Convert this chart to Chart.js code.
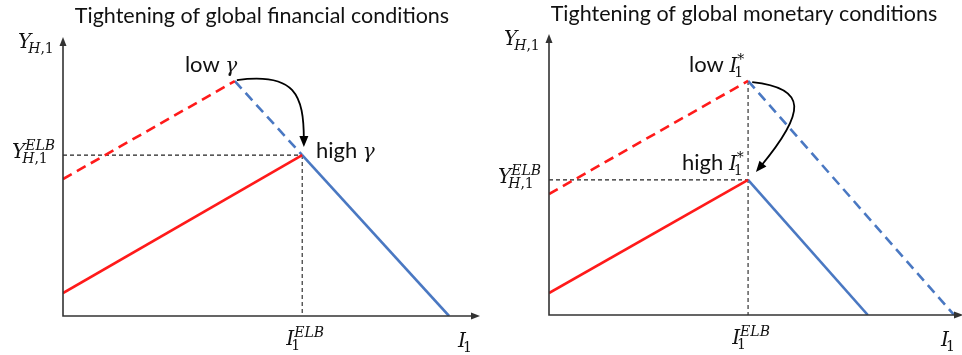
<!DOCTYPE html>
<html>
<head>
<meta charset="utf-8">
<script src="https://cdn.jsdelivr.net/npm/chart.js@4/dist/chart.umd.min.js"></script>
<style>
  html, body { margin: 0; padding: 0; background: #fff; }
  #wrap { position: relative; width: 962px; height: 355px; overflow: hidden; }
  canvas { position: absolute; top: 0; }
</style>
</head>
<body>
<div id="wrap">
  <canvas id="finChart" width="481" height="355" style="left:0"></canvas>
  <canvas id="monChart" width="481" height="355" style="left:481px"></canvas>
</div>
<script>
// ---- schematic data, both axes run 0..10 ----
const titles = ['Tightening of global financial conditions', 'Tightening of global monetary conditions'];

// left panel: financial conditions (low gamma dashed, high gamma solid)
const finRedSolid   = [[0, 0.83], [5.75, 5.83]];
const finRedDashed  = [[0, 4.96], [4.13, 8.51]];
const finBlueDashed = [[4.13, 8.51], [5.75, 5.83]];
const finBlueSolid  = [[5.75, 5.83], [9.28, 0]];
const finElbX = [5.75];
const finElbY = [5.83];
const finGuideTop = 5.83;
const finArrow = [[4.18, 8.55], [5.58, 8.84], [5.79, 8.01], [5.79, 6.12]];
const finNotes = [['low', 2.93, 8.84], ['high', 6.08, 5.72]];

// right panel: monetary conditions (low I* dashed, high I* solid)
const monRedSolid   = [[0, 0.79], [4.82, 4.86]];
const monRedDashed  = [[0, 4.35], [4.82, 8.42]];
const monBlueSolid  = [[4.82, 4.86], [7.72, 0]];
const monBlueDashed = [[4.82, 8.42], [9.81, 0]];
const monElbX = [4.82];
const monElbY = [4.86];
const monGuideTop = 8.42;
const monArrow = [[4.92, 8.38], [6.27, 8.17], [6.22, 7.30], [5.01, 5.14]];
const monNotes = [['low', 3.39, 8.74], ['high', 3.22, 5.22]];

const RED = '#ff1a1a';
const BLUE = '#4a78c2';
const AXIS = '#333333';
const F_TEXT = 'Lato, "Open Sans", sans-serif';
const F_MATH = '"DejaVu Serif", "Liberation Serif", serif';

const pts = arr => arr.map(p => ({ x: p[0], y: p[1] }));

function runsWidth(ctx, runs, size) {
  let w = 0;
  runs.forEach(r => {
    ctx.font = (r[1] ? 'italic ' : '') + size + 'px ' + F_MATH;
    w += ctx.measureText(r[0]).width;
  });
  return w;
}

function drawRuns(ctx, x, y, runs, size) {
  let cx = x;
  runs.forEach(r => {
    ctx.font = (r[1] ? 'italic ' : '') + size + 'px ' + F_MATH;
    ctx.fillText(r[0], cx, y);
    cx += ctx.measureText(r[0]).width;
  });
}

// base symbol with optional subscript / superscript, stacked
function mathSym(ctx, x, y, base, sub, sup, align) {
  const size = 20, small = 14;
  ctx.font = 'italic ' + size + 'px ' + F_MATH;
  const bw = ctx.measureText(base).width;
  const subW = sub ? runsWidth(ctx, sub, small) : 0;
  const supW = sup ? runsWidth(ctx, sup, small) : 0;
  const total = bw + Math.max(subW - 3, supW);
  let x0 = x;
  if (align === 'right') x0 = x - total;
  if (align === 'center') x0 = x - total / 2;
  ctx.fillStyle = '#111';
  ctx.textBaseline = 'alphabetic';
  ctx.textAlign = 'left';
  ctx.font = 'italic ' + size + 'px ' + F_MATH;
  ctx.fillText(base, x0, y);
  if (sup) drawRuns(ctx, x0 + bw, y - 8, sup, small);
  if (sub) drawRuns(ctx, x0 + bw - 3, y + 5, sub, small);
}

function arrowHead(ctx, tx, ty, ang, len, half) {
  ctx.beginPath();
  ctx.moveTo(tx, ty);
  ctx.lineTo(tx - len * Math.cos(ang) + half * Math.sin(ang), ty - len * Math.sin(ang) - half * Math.cos(ang));
  ctx.lineTo(tx - len * Math.cos(ang) - half * Math.sin(ang), ty - len * Math.sin(ang) + half * Math.cos(ang));
  ctx.closePath();
  ctx.fill();
}

const diagramPlugin = {
  id: 'diagram',
  afterDraw(chart, args, o) {
    const ctx = chart.ctx;
    const a = chart.chartArea;
    const xs = chart.scales.x, ys = chart.scales.y;
    ctx.save();

    // axes with arrow heads
    ctx.strokeStyle = AXIS;
    ctx.fillStyle = AXIS;
    ctx.lineWidth = 1.6;
    ctx.beginPath();
    ctx.moveTo(a.left, a.top + 2);
    ctx.lineTo(a.left, a.bottom);
    ctx.lineTo(a.right - 4, a.bottom);
    ctx.stroke();
    arrowHead(ctx, a.left, a.top - 3, -Math.PI / 2, 9, 3.5);
    arrowHead(ctx, a.right + 1, a.bottom, 0, 9, 3.5);

    // curved arrow from the low to the high kink
    const p = o.arrow.map(q => [xs.getPixelForValue(q[0]), ys.getPixelForValue(q[1])]);
    const ang = Math.atan2(p[3][1] - p[2][1], p[3][0] - p[2][0]);
    ctx.strokeStyle = '#000';
    ctx.fillStyle = '#000';
    ctx.lineWidth = 1.8;
    ctx.beginPath();
    ctx.moveTo(p[0][0], p[0][1]);
    ctx.bezierCurveTo(p[1][0], p[1][1], p[2][0], p[2][1], p[3][0] - 7 * Math.cos(ang), p[3][1] - 7 * Math.sin(ang));
    ctx.stroke();
    arrowHead(ctx, p[3][0], p[3][1], ang, 11, 4.5);

    // title
    ctx.fillStyle = '#111';
    ctx.font = '21.5px ' + F_TEXT;
    ctx.textAlign = 'center';
    ctx.textBaseline = 'alphabetic';
    ctx.fillText(o.title, o.titleX, o.titleY);

    // annotations: low / high
    o.notes.forEach(n => {
      const nx = xs.getPixelForValue(n[1]), ny = ys.getPixelForValue(n[2]);
      ctx.font = '22px ' + F_TEXT;
      ctx.textAlign = 'left';
      ctx.fillStyle = '#111';
      ctx.fillText(n[0], nx, ny);
      const w = ctx.measureText(n[0] + ' ').width;
      if (o.noteSym === 'gamma') {
        mathSym(ctx, nx + w, ny, 'γ', null, null, 'left');
      } else {
        mathSym(ctx, nx + w, ny, 'I', [['1', false]], [['*', false]], 'left');
      }
    });

    // axis labels and ELB ticks
    mathSym(ctx, a.left - 45, a.top + 8, 'Y', [['H', true], [',1', false]], null, 'left');
    o.elbY.forEach(v => {
      mathSym(ctx, a.left - 8, ys.getPixelForValue(v) + 3, 'Y', [['H', true], [',1', false]], [['ELB', true]], 'right');
    });
    o.elbX.forEach(v => {
      mathSym(ctx, xs.getPixelForValue(v) + 3, a.bottom + 29, 'I', [['1', false]], [['ELB', true]], 'center');
    });
    mathSym(ctx, a.right - 21, a.bottom + 31, 'I', [['1', false]], null, 'left');

    ctx.restore();
  }
};

function lineSet(data, color, dashed) {
  return {
    data: pts(data),
    showLine: true,
    borderColor: color,
    borderWidth: 2.6,
    borderDash: dashed ? [10, 6] : [],
    pointRadius: 0,
    order: 1
  };
}

function guideSets(elbX, elbY, top) {
  const style = { showLine: true, borderColor: '#222', borderWidth: 1.1, borderDash: [4, 3], pointRadius: 0, order: 5 };
  return [
    Object.assign({ data: [{ x: 0, y: elbY[0] }, { x: elbX[0], y: elbY[0] }] }, style),
    Object.assign({ data: [{ x: elbX[0], y: top }, { x: elbX[0], y: 0 }] }, style)
  ];
}

function makePanel(id, sets, pad, opts) {
  return new Chart(document.getElementById(id), {
    type: 'scatter',
    data: { datasets: sets },
    options: {
      responsive: false,
      animation: false,
      layout: { padding: pad },
      scales: {
        x: { type: 'linear', min: 0, max: 10, display: false },
        y: { type: 'linear', min: 0, max: 10, display: false }
      },
      plugins: {
        legend: { display: false },
        tooltip: { enabled: false },
        diagram: opts
      }
    },
    plugins: [diagramPlugin]
  });
}

makePanel('finChart', [
  lineSet(finRedSolid, RED, false),
  lineSet(finRedDashed, RED, true),
  lineSet(finBlueDashed, BLUE, true),
  lineSet(finBlueSolid, BLUE, false),
  ...guideSets(finElbX, finElbY, finGuideTop)
], { left: 63, right: 2, top: 40, bottom: 39 }, {
  title: titles[0], titleX: 262, titleY: 23,
  elbX: finElbX, elbY: finElbY, arrow: finArrow, notes: finNotes, noteSym: 'gamma'
});

makePanel('monChart', [
  lineSet(monRedSolid, RED, false),
  lineSet(monRedDashed, RED, true),
  lineSet(monBlueSolid, BLUE, false),
  lineSet(monBlueDashed, BLUE, true),
  ...guideSets(monElbX, monElbY, monGuideTop)
], { left: 68, right: 0, top: 37, bottom: 40 }, {
  title: titles[1], titleX: 263, titleY: 21,
  elbX: monElbX, elbY: monElbY, arrow: monArrow, notes: monNotes, noteSym: 'star'
});
</script>
</body>
</html>
